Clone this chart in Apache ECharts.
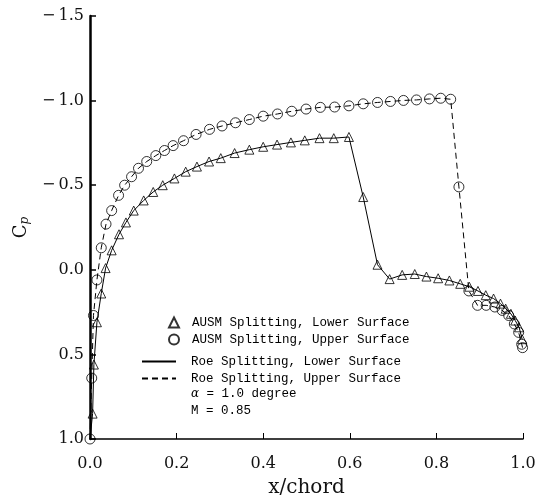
<!DOCTYPE html>
<html>
<head>
<meta charset="utf-8">
<script src="https://cdn.jsdelivr.net/npm/echarts@6/dist/echarts.min.js"></script>
<style>html,body{margin:0;padding:0;background:#fff}#c{width:542px;height:503px}</style>
</head>
<body>
<div id="c"></div>
<script>
// AUSM splitting, lower surface (triangles)
const lowerX = [0.006, 0.009, 0.016, 0.026, 0.036, 0.050, 0.067, 0.083, 0.101, 0.124, 0.146, 0.168, 0.195, 0.221, 0.247, 0.275, 0.302, 0.334, 0.368, 0.400, 0.432, 0.464, 0.496, 0.530, 0.563, 0.598, 0.631, 0.664, 0.692, 0.721, 0.750, 0.777, 0.804, 0.830, 0.855, 0.876, 0.896, 0.914, 0.932, 0.948, 0.960, 0.972, 0.982, 0.991, 0.998];
const lowerCp = [0.85, 0.56, 0.31, 0.14, -0.01, -0.115, -0.21, -0.28, -0.35, -0.41, -0.46, -0.50, -0.54, -0.58, -0.61, -0.64, -0.66, -0.69, -0.71, -0.727, -0.74, -0.753, -0.765, -0.778, -0.778, -0.785, -0.43, -0.03, 0.055, 0.03, 0.025, 0.04, 0.05, 0.063, 0.083, 0.10, 0.125, 0.15, 0.17, 0.20, 0.23, 0.26, 0.30, 0.34, 0.41];
// AUSM splitting, upper surface (circles)
const upperX = [0.000, 0.004, 0.008, 0.016, 0.026, 0.037, 0.050, 0.066, 0.080, 0.096, 0.112, 0.131, 0.152, 0.172, 0.192, 0.216, 0.245, 0.276, 0.305, 0.336, 0.368, 0.400, 0.433, 0.466, 0.499, 0.532, 0.565, 0.598, 0.631, 0.664, 0.694, 0.724, 0.754, 0.784, 0.810, 0.833, 0.852, 0.875, 0.895, 0.915, 0.935, 0.952, 0.967, 0.980, 0.990, 0.997, 0.999];
const upperCp = [1.0, 0.64, 0.27, 0.06, -0.13, -0.27, -0.35, -0.44, -0.50, -0.55, -0.60, -0.64, -0.675, -0.705, -0.734, -0.763, -0.80, -0.83, -0.85, -0.869, -0.888, -0.908, -0.921, -0.937, -0.950, -0.960, -0.962, -0.969, -0.981, -0.989, -0.995, -1.001, -1.004, -1.010, -1.014, -1.008, -0.49, 0.125, 0.21, 0.21, 0.22, 0.24, 0.27, 0.32, 0.37, 0.44, 0.46];
// Roe splitting (lines)
const roeLowerX = [0.000].concat(lowerX);
const roeLowerCp = [1.0].concat(lowerCp);
const roeUpperX = upperX;
const roeUpperCp = upperCp;

const xTicks = [0, 0.2, 0.4, 0.6, 0.8, 1.0];
const yTicks = [-1.5, -1.0, -0.5, 0.0, 0.5, 1.0];
const seriesNames = ['AUSM Splitting, Lower Surface', 'AUSM Splitting, Upper Surface', 'Roe Splitting, Lower Surface', 'Roe Splitting, Upper Surface'];
const noteAlpha = '= 1.0 degree';
const noteMach = 'M = 0.85';

const pairs = (xs, ys) => xs.map((x, i) => [x, ys[i]]);
const serif = 'DejaVu Serif';
const mono = 'Liberation Mono';

const chart = echarts.init(document.getElementById('c'), null, {renderer: 'canvas'});
chart.setOption({
  backgroundColor: '#fff',
  animation: false,
  grid: {left: 90, right: 19, top: 16, bottom: 55},
  xAxis: {
    type: 'value', min: xTicks[0], max: xTicks[xTicks.length - 1], interval: 0.2,
    name: 'x/chord', nameLocation: 'middle', nameGap: 39,
    nameTextStyle: {fontFamily: serif, fontSize: 20, color: '#111'},
    axisLine: {onZero: false, lineStyle: {color: '#000', width: 1.5}},
    axisTick: {inside: true, length: 6, lineStyle: {color: '#000', width: 1}},
    axisLabel: {fontFamily: serif, fontSize: 16, color: '#111', margin: 17, formatter: v => v.toFixed(1)},
    splitLine: {show: false}
  },
  yAxis: {
    type: 'value', min: yTicks[0], max: yTicks[yTicks.length - 1], interval: 0.5, inverse: true,
    name: '{c|C}{p|p}', nameLocation: 'middle', nameGap: 58, nameRotate: 90,
    nameTextStyle: {rich: {c: {fontFamily: serif, fontSize: 18, color: '#111'}, p: {fontFamily: serif, fontStyle: 'italic', fontSize: 12, color: '#111', padding: [8, 0, 0, 0]}}},
    axisLine: {onZero: false, lineStyle: {color: '#000', width: 2.5}},
    axisTick: {inside: true, length: 6, lineStyle: {color: '#000', width: 1.5}},
    axisLabel: {fontFamily: serif, fontSize: 16, color: '#111', margin: 6, formatter: v => v < 0 ? '\u2212\u2009' + Math.abs(v).toFixed(1) : v.toFixed(1)},
    splitLine: {show: false}
  },
  legend: [
    {data: [seriesNames[0], seriesNames[1]], orient: 'vertical', left: 168, top: 316, padding: 0, itemWidth: 10, itemHeight: 10, itemGap: 4,
     textStyle: {fontFamily: mono, fontSize: 12.5, color: '#000', lineHeight: 13, padding: [0, 0, 0, 8]}, selectedMode: false},
    {data: [seriesNames[2], seriesNames[3]], orient: 'vertical', left: 141, top: 355, padding: 0, itemWidth: 34, itemHeight: 10, itemGap: 4,
     itemStyle: {opacity: 0},
     textStyle: {fontFamily: mono, fontSize: 12.5, color: '#000', lineHeight: 13, padding: [0, 0, 0, 10]}, selectedMode: false}
  ],
  graphic: [
    {type: 'text', left: 191, top: 387, style: {text: '{a|\u03b1} ' + noteAlpha, rich: {a: {fontFamily: 'DejaVu Serif', fontStyle: 'italic', fontSize: 12, fill: '#000'}}, fontFamily: mono, fontSize: 12.5, fill: '#000'}},
    {type: 'text', left: 191, top: 404, style: {text: noteMach, fontFamily: mono, fontSize: 12.5, fill: '#000'}}
  ],
  series: [
    {name: seriesNames[2], type: 'line', data: pairs(roeLowerX, roeLowerCp), symbol: 'none', lineStyle: {color: '#000', width: 1}, itemStyle: {color: '#000'}, z: 2},
    {name: seriesNames[3], type: 'line', data: pairs(roeUpperX, roeUpperCp), symbol: 'none', lineStyle: {color: '#000', width: 1, type: [6, 4]}, itemStyle: {color: '#000'}, z: 2},
    {name: seriesNames[0], type: 'scatter', data: pairs(lowerX, lowerCp), symbol: 'triangle', symbolSize: 9, itemStyle: {color: 'rgba(0,0,0,0)', borderColor: '#000', borderWidth: 1}, z: 3},
    {name: seriesNames[1], type: 'scatter', data: pairs(upperX, upperCp), symbol: 'circle', symbolSize: 10, itemStyle: {color: 'rgba(0,0,0,0)', borderColor: '#000', borderWidth: 1}, z: 3}
  ]
});
</script>
</body>
</html>
